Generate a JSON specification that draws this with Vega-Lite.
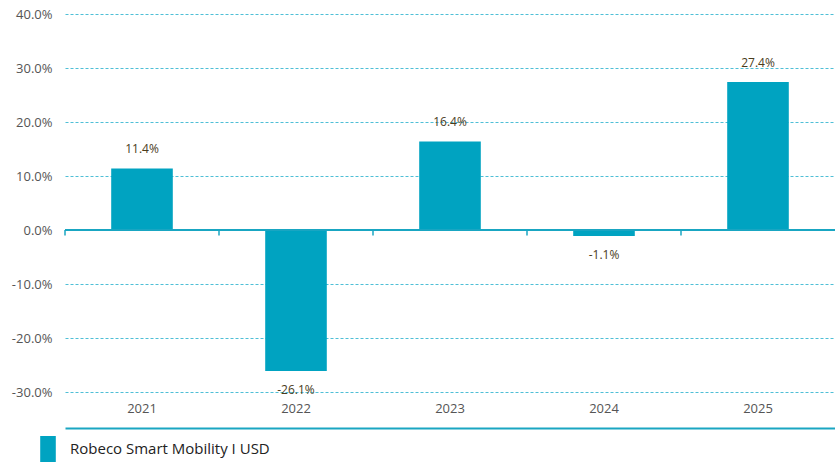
{
  "$schema": "https://vega.github.io/schema/vega-lite/v6.json",
  "width": 770,
  "height": 378,
  "autosize": {"type": "none"},
  "padding": {"left": 65, "top": 14, "right": 0, "bottom": 70},
  "background": "white",
  "config": {
    "view": {"stroke": null},
    "font": "Open Sans",
    "locale": {"number": {"decimal": ".", "thousands": ",", "grouping": [3], "currency": ["$", ""], "minus": "-"}}
  },
  "data": {
    "values": [
      {"year": "2021", "ret": 0.114, "series": "Robeco Smart Mobility I USD"},
      {"year": "2022", "ret": -0.261, "series": "Robeco Smart Mobility I USD"},
      {"year": "2023", "ret": 0.164, "series": "Robeco Smart Mobility I USD"},
      {"year": "2024", "ret": -0.011, "series": "Robeco Smart Mobility I USD"},
      {"year": "2025", "ret": 0.274, "series": "Robeco Smart Mobility I USD"}
    ]
  },
  "encoding": {
    "x": {
      "field": "year", "type": "ordinal",
      "scale": {"paddingInner": 0, "paddingOuter": 0},
      "axis": {
        "title": null, "labelAngle": 0, "ticks": false, "tickSize": 0,
        "offset": 36, "domainColor": "#1aa6c2", "domainWidth": 2,
        "labelPadding": -26, "labelFontSize": 13, "labelColor": "#555555",
        "labelFont": "Open Sans"
      }
    }
  },
  "layer": [
    {
      "mark": {"type": "bar", "width": {"band": 0.4}, "color": "#00a3c1"},
      "encoding": {
        "y": {
          "field": "ret", "type": "quantitative",
          "scale": {"domain": [-0.3, 0.4], "nice": false, "zero": false},
          "axis": {
            "title": null, "format": ".1%", "values": [-0.3, -0.2, -0.1, 0, 0.1, 0.2, 0.3, 0.4],
            "domain": false, "ticks": false, "labelPadding": 13,
            "labelFontSize": 13, "labelColor": "#555555",
            "grid": true, "gridColor": "#4fbfd6", "gridDash": [3, 2], "gridWidth": 1
          }
        },
        "color": {
          "field": "series", "type": "nominal",
          "scale": {"range": ["#00a3c1"]},
          "legend": {
            "title": null, "orient": "none", "legendX": -30, "legendY": 422,
            "padding": 0,
            "symbolType": "M-0.6,-1L0.6,-1L0.6,1L-0.6,1Z",
            "symbolSize": 676, "symbolStrokeWidth": 0,
            "labelOffset": 9, "labelFontSize": 15, "labelColor": "#222222",
            "labelFont": "Open Sans", "labelLimit": 400
          }
        }
      }
    },
    {
      "mark": {"type": "rule", "color": "#1aa6c2", "strokeWidth": 1.5},
      "encoding": {"x": null, "y": {"datum": 0}}
    },
    {
      "mark": {"type": "rule", "color": "#1aa6c2", "strokeWidth": 1.5},
      "encoding": {
        "x": {"field": "year", "type": "ordinal", "bandPosition": 0},
        "y": {"datum": 0},
        "y2": {"datum": -0.01}
      }
    },
    {
      "transform": [{"filter": "datum.ret >= 0"}],
      "mark": {"type": "text", "dy": -19, "fontSize": 12, "color": "#4a3c1c"},
      "encoding": {
        "y": {"field": "ret", "type": "quantitative"},
        "text": {"field": "ret", "type": "quantitative", "format": ".1%"}
      }
    },
    {
      "transform": [{"filter": "datum.ret < 0"}],
      "mark": {"type": "text", "dy": 19, "fontSize": 12, "color": "#4a3c1c"},
      "encoding": {
        "y": {"field": "ret", "type": "quantitative"},
        "text": {"field": "ret", "type": "quantitative", "format": ".1%"}
      }
    }
  ]
}
